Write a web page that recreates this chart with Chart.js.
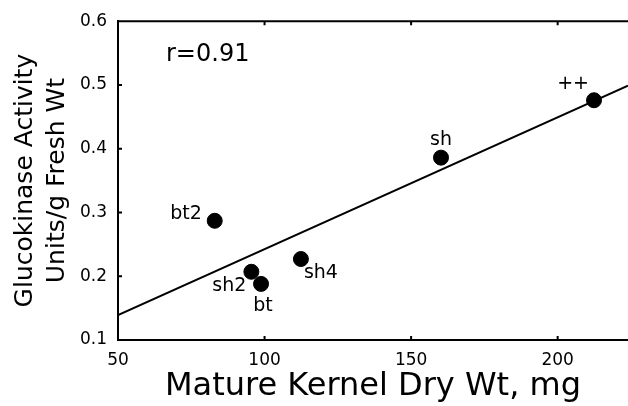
<!DOCTYPE html>
<html lang="en">
<head>
  <meta charset="UTF-8">
  <title>Glucokinase Activity vs Kernel Dry Wt</title>
  <script src="https://cdn.jsdelivr.net/npm/chart.js"></script>
  <style>
    body {
      margin: 0;
      background: #ffffff;
    }
    #wrap {
      width: 628px;
      height: 406px;
    }
  </style>
</head>
<body>
  <div id="wrap"><canvas id="chart" width="628" height="406"></canvas></div>

  <script>
    // values
    const genotypes = ['bt2', 'sh2', 'bt', 'sh4', 'sh', '++'];
    const kernelWt = [83, 95.5, 98.8, 112.4, 160.2, 212.4];
    const glucokinase = [0.287, 0.207, 0.188, 0.227, 0.386, 0.476];

    // fitted line end points
    const fitX = [50, 224];
    const fitY = [0.139, 0.499];

    const xTicks = [50, 100, 150, 200];
    const yTicks = [0.1, 0.2, 0.3, 0.4, 0.5, 0.6];
    const rText = 'r=0.91';

    const FONT = "'DejaVu Sans', sans-serif";

    // where each label sits relative to its point (px)
    const labelPos = {
      'bt2': { dx: -13, dy: -7, align: 'right' },
      'sh2': { dx: -5, dy: 14, align: 'right' },
      'bt':  { dx: 2, dy: 22, align: 'center' },
      'sh4': { dx: 3, dy: 14, align: 'left' },
      'sh':  { dx: 0, dy: -18, align: 'center' },
      '++':  { dx: -5, dy: -16, align: 'right' }
    };

    const points = kernelWt.map((x, i) => ({ x: x, y: glucokinase[i] }));
    const fitLine = fitX.map((x, i) => ({ x: x, y: fitY[i] }));

    const framePlugin = {
      id: 'frame',
      afterDraw(chart) {
        const { ctx, chartArea: a, scales } = chart;
        ctx.save();
        ctx.strokeStyle = '#000';
        ctx.lineWidth = 2;
        // top edge of the box
        ctx.beginPath();
        ctx.moveTo(a.left, a.top);
        ctx.lineTo(a.right, a.top);
        ctx.stroke();
        // inward ticks
        ctx.beginPath();
        xTicks.slice(1).forEach(v => {
          const px = scales.x.getPixelForValue(v);
          ctx.moveTo(px, a.bottom); ctx.lineTo(px, a.bottom - 4);
          ctx.moveTo(px, a.top); ctx.lineTo(px, a.top + 4);
        });
        yTicks.slice(1, -1).forEach(v => {
          const py = scales.y.getPixelForValue(v);
          ctx.moveTo(a.left, py); ctx.lineTo(a.left + 4, py);
        });
        ctx.stroke();

        // point labels
        ctx.fillStyle = '#000';
        ctx.font = '19px ' + FONT;
        ctx.textBaseline = 'middle';
        const meta = chart.getDatasetMeta(1);
        genotypes.forEach((g, i) => {
          const el = meta.data[i];
          const p = labelPos[g];
          ctx.textAlign = p.align;
          ctx.fillText(g, el.x + p.dx, el.y + p.dy);
        });

        // correlation
        ctx.font = '24px ' + FONT;
        ctx.textAlign = 'left';
        ctx.fillText(rText, 166, 55);
        ctx.restore();
      }
    };

    new Chart(document.getElementById('chart'), {
      type: 'scatter',
      data: {
        datasets: [
          {
            type: 'line',
            data: fitLine,
            borderColor: '#000',
            borderWidth: 2,
            pointRadius: 0,
            fill: false
          },
          {
            data: points,
            backgroundColor: '#000',
            borderColor: '#000',
            pointRadius: 7.5,
            pointHoverRadius: 7.5
          }
        ]
      },
      options: {
        responsive: false,
        animation: false,
        events: [],
        layout: { autoPadding: false, padding: { top: 19, right: 0, left: 0, bottom: 0 } },
        plugins: {
          legend: { display: false },
          tooltip: { enabled: false }
        },
        scales: {
          x: {
            type: 'linear',
            min: 50,
            max: 224,
            afterBuildTicks: s => { s.ticks = xTicks.map(v => ({ value: v })); },
            afterFit: s => { s.height = 66; },
            grid: { display: false, drawTicks: false },
            border: { display: true, color: '#000', width: 2 },
            ticks: {
              color: '#000',
              font: { family: FONT, size: 17 },
              padding: 10,
              maxRotation: 0,
              callback: v => String(v)
            },
            title: {
              display: true,
              text: 'Mature Kernel Dry Wt, mg',
              color: '#000',
              font: { family: FONT, size: 32 },
              padding: { top: 0, bottom: 0 }
            }
          },
          y: {
            min: 0.1,
            max: 0.6,
            afterBuildTicks: s => { s.ticks = yTicks.map(v => ({ value: v })); },
            afterFit: s => { s.width = 118; },
            grid: { display: false, drawTicks: false },
            border: { display: true, color: '#000', width: 2 },
            ticks: {
              color: '#000',
              font: { family: FONT, size: 17 },
              padding: 11,
              callback: v => v.toFixed(1)
            },
            title: {
              display: true,
              text: ['Glucokinase Activity', 'Units/g Fresh Wt'],
              color: '#000',
              font: { family: FONT, size: 25, lineHeight: 1.28 },
              padding: { top: 9, bottom: 0 }
            }
          }
        }
      },
      plugins: [framePlugin]
    });
  </script>
</body>
</html>
